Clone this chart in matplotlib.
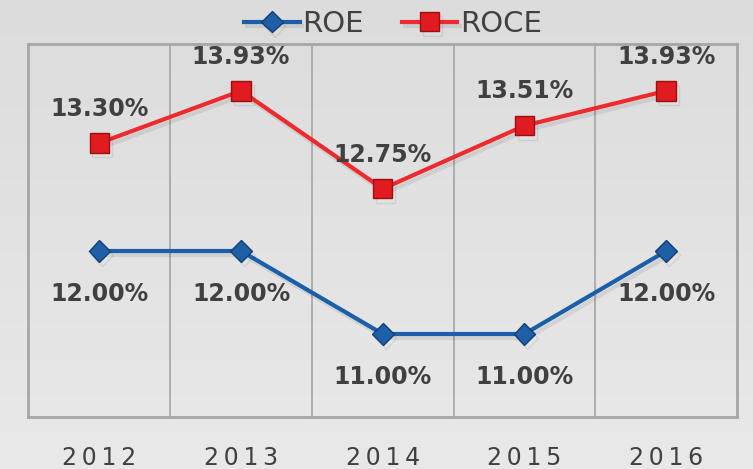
import numpy as np
import matplotlib
matplotlib.use("Agg")
import matplotlib.pyplot as plt
import matplotlib.patheffects as pe
from matplotlib.colors import LinearSegmentedColormap

years = ["2012", "2013", "2014", "2015", "2016"]
roe = [12.00, 12.00, 11.00, 11.00, 12.00]
roce = [13.30, 13.93, 12.75, 13.51, 13.93]

fig = plt.figure(figsize=(7.53, 4.69), dpi=100)
# background gradient
bg = fig.add_axes([0, 0, 1, 1], zorder=-10)
grad = np.linspace(0, 1, 256).reshape(-1, 1)
cmap = LinearSegmentedColormap.from_list("bg", ["#dcdcdc", "#e9e9e9"])
bg.imshow(grad, aspect="auto", cmap=cmap, extent=[0, 1, 0, 1], origin="upper")
bg.axis("off")

ax = fig.add_axes([0.0378, 0.1109, 0.941, 0.7963])
ax.patch.set_alpha(0)
x = np.arange(len(years))
ax.set_xlim(-0.5, len(years) - 0.5)
ax.set_ylim(10, 14.5)

for b in np.arange(0.5, len(years) - 0.5, 1):
    ax.axvline(b, color="#a9a9a9", lw=1.3, zorder=1)
for s in ax.spines.values():
    s.set_color("#a6a6a6")
    s.set_linewidth(2)

shadow = [pe.SimpleLineShadow(offset=(2, -3), shadow_color="#000000", alpha=0.08, rho=0.5), pe.Normal()]

l1, = ax.plot(x, roe, color="#1b5eab", lw=3, marker="D", markersize=11,
              markerfacecolor="#1f5fa8", markeredgecolor="#123f75", markeredgewidth=1,
              label="ROE", zorder=3, path_effects=shadow)
l2, = ax.plot(x, roce, color="#ef2a2e", lw=3, marker="s", markersize=14,
              markerfacecolor="#e11b1f", markeredgecolor="#9a1012", markeredgewidth=1,
              label="ROCE", zorder=3, path_effects=shadow)

lab_font = dict(fontsize=17, fontweight="bold", color="#404040", family="DejaVu Sans")
for xi, v in zip(x, roe):
    ax.annotate(f"{v:.2f}%", (xi, v), xytext=(0, -22), textcoords="offset points",
                ha="center", va="top", **lab_font)
for xi, v in zip(x, roce):
    ax.annotate(f"{v:.2f}%", (xi, v), xytext=(0, 16), textcoords="offset points",
                ha="center", va="bottom", **lab_font)

ax.set_yticks([])
ax.set_xticks(x)
ax.set_xticklabels(["\u2009".join(list(y)) for y in years], fontsize=17, color="#404040",
                   family="DejaVu Sans")
ax.tick_params(axis="x", length=0, pad=21)

leg = fig.legend(handles=[l1, l2], loc="upper center", bbox_to_anchor=(0.522, 1.035), ncol=2,
                 frameon=False, fontsize=21, handlelength=1.9, handletextpad=0.1,
                 columnspacing=1.3, labelcolor="#404040")

fig.savefig("out.png", dpi=100)
